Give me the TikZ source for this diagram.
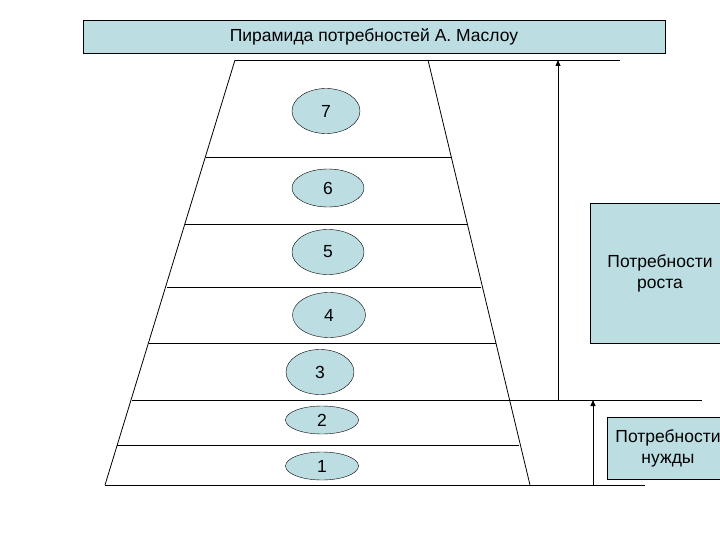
\documentclass[tikz,border=0pt]{standalone}
\usepackage{fontspec}
\setmainfont{Liberation Sans}
\usepackage{xcolor}
\definecolor{paleteal}{RGB}{188,222,226}
\usetikzlibrary{arrows.meta, shapes.geometric, positioning}

\begin{document}
\begin{tikzpicture}[x=1pt, y=-1pt,
  lvl/.style={draw, ellipse, fill=paleteal, inner sep=0pt, font=\fontsize{17.5}{20}\selectfont},
  tbox/.style={draw, fill=paleteal, inner sep=0pt, align=center, font=\fontsize{17.5}{21}\selectfont},
  edge/.style={line width=0.8pt},
  flow/.style={-{Triangle[length=6pt, width=5pt]}, line width=0.8pt}
]
\useasboundingbox (0,0) rectangle (720,540);
% title
\node[tbox, minimum width=582pt, minimum height=33pt] (title) at (374,36.5) {Пирамида потребностей А. Маслоу};
% pyramid outline
\draw[edge] (235,60) -- (105,485);
\draw[edge] (428,60) -- (530,485);
\draw[edge] (235,60) -- (620,60);
\draw[edge] (105,485) -- (645,485);
\draw[edge] (206,157) -- (451,157);
\draw[edge] (185,224) -- (467,224);
\draw[edge] (167,287) -- (481,287);
\draw[edge] (149,343) -- (496,343);
\draw[edge] (132,400) -- (702,400);
\draw[edge] (117,445) -- (519,445);
% levels
\node[lvl, minimum width=68pt, minimum height=45pt] (l7) at (326,111) {7};
\node[lvl, minimum width=72pt, minimum height=38pt] (l6) at (328,188) {6};
\node[lvl, minimum width=72pt, minimum height=45pt] (l5) at (328,252) {5};
\node[lvl, minimum width=73pt, minimum height=45pt] (l4) at (329,315) {4};
\node[lvl, minimum width=68pt, minimum height=45pt] (l3) at (320,372) {3};
\node[lvl, minimum width=73pt, minimum height=28pt] (l2) at (322,420) {2};
\node[lvl, minimum width=73pt, minimum height=28pt] (l1) at (322,466) {1};
% groups
\node[tbox, minimum width=140pt, minimum height=140pt] (grow) at (660,273) {Потребности\\роста};
\node[tbox, minimum width=122pt, minimum height=62pt] (need) at (668,448) {Потребности\\нужды};
% arrows
\coordinate (g0) at (558,400);
\coordinate (g1) at (558,60);
\coordinate (n0) at (593,485);
\coordinate (n1) at (593,400);
\draw[flow] (g0) -- (g1);
\draw[flow] (n0) -- (n1);
\end{tikzpicture}
\end{document}
